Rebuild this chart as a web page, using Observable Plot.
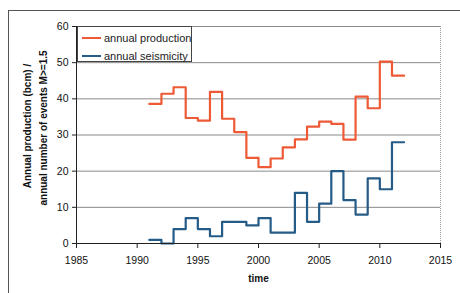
<!DOCTYPE html>
<html>
<head>
<meta charset="utf-8">
<script src="https://cdn.jsdelivr.net/npm/d3@7"></script>
<script src="https://cdn.jsdelivr.net/npm/@observablehq/plot@0.6"></script>
<style>
  html, body { margin: 0; padding: 0; background: #fff; }
  #wrap { position: relative; width: 460px; height: 293px; overflow: hidden; background: #fff; font-family: "Liberation Sans", Arial, sans-serif; }
  #frame { position: absolute; left: 8px; top: 10px; width: 470px; height: 300px; border: 1px solid #555; box-sizing: border-box; }
  #chart { position: absolute; left: 0; top: 0; }
  #legend { position: absolute; left: 77px; top: 26px; width: 115px; height: 36px; box-sizing: border-box; border: 1px solid #444; background: #fff; font-size: 11px; color: #222; }
  .item { position: absolute; left: 4px; height: 14px; display: flex; align-items: center; white-space: nowrap; }
  .swatch { width: 19px; height: 0; border-top: 2px solid; margin-right: 3px; }
</style>
</head>
<body>
<div id="wrap">
  <div id="frame"></div>
  <div id="chart"></div>
  <div id="legend"></div>
</div>
<script>
const years = [1991,1992,1993,1994,1995,1996,1997,1998,1999,2000,2001,2002,2003,2004,2005,2006,2007,2008,2009,2010,2011];
const production = [38.6,41.4,43.2,34.7,34.0,41.9,34.5,30.8,23.7,21.1,23.5,26.6,28.8,32.3,33.7,33.1,28.7,40.6,37.4,50.3,46.4];
const seismicity = [1,0,4,7,4,2,6,6,5,7,3,3,14,6,11,20,12,8,18,15,28];
const seriesNames = ["annual production", "annual seismicity"];
const seriesColors = ["#ee5a36", "#255b87"];
const xTicks = [1985,1990,1995,2000,2005,2010,2015];
const yTicks = [0,10,20,30,40,50,60];
const yTitle = ["Annual production (bcm) /", "annual number of events M>=1.5"];
const xTitle = "time";

function steps(vals, name) {
  const out = years.map((y, i) => ({year: y, value: vals[i], series: name}));
  out.push({year: years[years.length - 1] + 1, value: vals[vals.length - 1], series: name});
  return out;
}
const data = [...steps(production, seriesNames[0]), ...steps(seismicity, seriesNames[1])];

const chart = Plot.plot({
  width: 460,
  height: 293,
  marginLeft: 76,
  marginRight: 20,
  marginTop: 26,
  marginBottom: 50,
  style: {fontFamily: "'Liberation Sans', Arial, sans-serif", fontSize: "10px", color: "#111", background: "transparent"},
  x: {domain: [1985, 2015]},
  y: {domain: [0, 60]},
  color: {domain: seriesNames, range: seriesColors},
  marks: [
    Plot.gridY(yTicks.filter(d => d > 0), {stroke: "#8a8a8a", strokeOpacity: 1, strokeWidth: 1}),
    Plot.ruleX([2015], {stroke: "#999", strokeDasharray: "1,1"}),
    Plot.line(data, {x: "year", y: "value", z: "series", stroke: "series", curve: "step-after", strokeWidth: 2.2}),
    Plot.ruleY([0], {stroke: "#222"}),
    Plot.ruleX([1985], {stroke: "#222"}),
    Plot.axisX(xTicks, {tickSize: 5, tickFormat: d => String(d), label: null, stroke: "#222", tickPadding: 8, fontSize: 10.5}),
    Plot.axisY(yTicks, {tickSize: 4, label: null, stroke: "#222", tickPadding: 4, fontSize: 10.5}),
    Plot.text([xTitle], {frameAnchor: "bottom", dy: 38, fontWeight: "bold", fontSize: 10}),
    Plot.text([yTitle[0]], {frameAnchor: "left", textAnchor: "middle", dx: -49, dy: -9, rotate: -90, fontWeight: "bold", fontSize: 10}),
    Plot.text([yTitle[1]], {frameAnchor: "left", textAnchor: "middle", dx: -33, dy: -7, rotate: -90, fontWeight: "bold", fontSize: 10})
  ]
});
document.getElementById("chart").appendChild(chart);

const legend = document.getElementById("legend");
seriesNames.forEach((n, i) => {
  const it = document.createElement("div");
  it.className = "item";
  it.style.top = (4 + i * 18) + "px";
  const sw = document.createElement("span");
  sw.className = "swatch";
  sw.style.borderColor = seriesColors[i];
  const tx = document.createElement("span");
  tx.textContent = n;
  it.appendChild(sw);
  it.appendChild(tx);
  legend.appendChild(it);
});
</script>
</body>
</html>
